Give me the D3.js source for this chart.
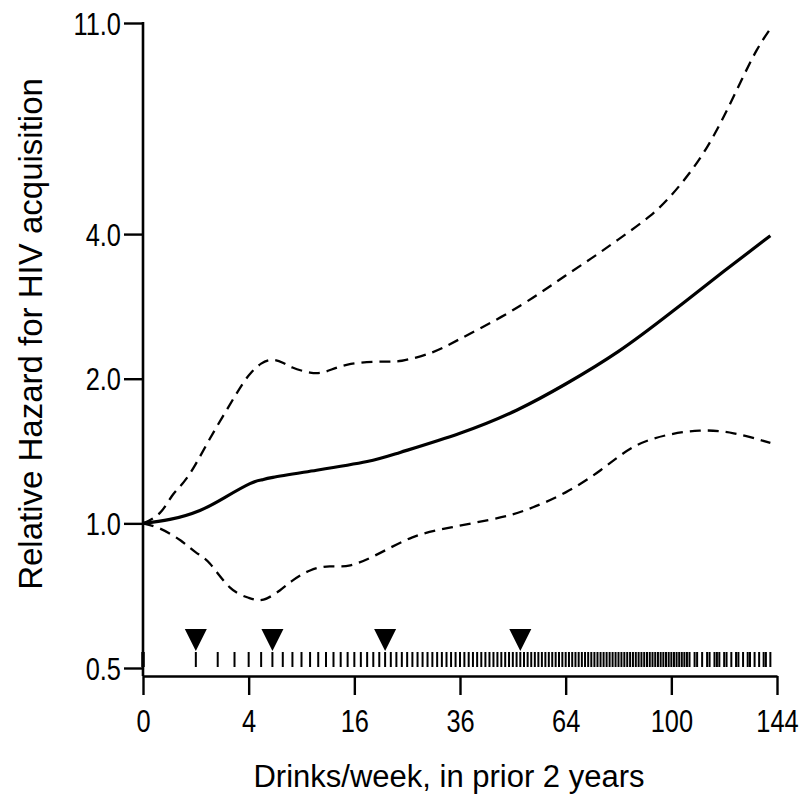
<!DOCTYPE html>
<html><head><meta charset="utf-8">
<script src="https://cdn.jsdelivr.net/npm/d3@7"></script>
<style>body{margin:0;background:#fff} svg{display:block}</style>
</head><body>
<svg id="chart" width="800" height="800"></svg>
<script>
// ---- data ----
const xTickValues = [0, 4, 16, 36, 64, 100, 144];
const yTickValues = [0.5, 1, 2, 4, 11];

const estX = [0, 0.26, 1.16, 2.41, 4.1, 5.07, 6.05, 10.8, 18, 23.7, 36, 50, 64, 81, 100, 121, 141];
const estY = [1.0, 1.019, 1.064, 1.133, 1.21, 1.232, 1.247, 1.29, 1.345, 1.405, 1.54, 1.72, 1.95, 2.28, 2.75, 3.35, 3.97];

const upperX = [0, 0.1, 0.3, 0.6, 1, 1.6, 2.5, 3.5, 4.2, 5, 6, 7, 8, 10, 12, 15, 20, 24, 30, 36, 46, 56, 64, 72, 81, 92, 100, 107, 114, 121, 128, 135, 141];
const upperY = [1.0, 1.05, 1.14, 1.22, 1.33, 1.5, 1.72, 1.94, 2.06, 2.15, 2.19, 2.16, 2.11, 2.06, 2.07, 2.14, 2.17, 2.18, 2.27, 2.42, 2.69, 3.0, 3.28, 3.56, 3.9, 4.36, 4.82, 5.36, 6.07, 7.05, 8.3, 9.67, 10.7];

const lowerX = [0, 0.1, 0.5, 1, 1.6, 2.7, 4, 5.2, 6.7, 8, 10, 12.5, 15.4, 20, 26, 34, 46, 54.5, 64, 75, 86, 98, 111, 125, 141];
const lowerY = [1.0, 0.976, 0.922, 0.87, 0.825, 0.736, 0.70, 0.694, 0.725, 0.76, 0.798, 0.814, 0.818, 0.866, 0.935, 0.981, 1.03, 1.08, 1.16, 1.29, 1.44, 1.525, 1.56, 1.54, 1.47];

const rugValues = [0,1,2,3,4,5,6,7,8,9,10,11,12,13,14,15,16,17,18,19,20,21,22,23,24,25,26,27,28,29,30,
  31,32,33,34,35,36,37,38,39,40,41,42,43,44,45,46,47,48,49,50,51,52,53,54,55,56,57,58,59,60,
  61,62,63,64,65,66,67,68,69,70,71,72,73,74,75,76,77,78,79,80,81,82,83,84,85,86,87,88,89,90,
  91,92,93,94,95,96,97,98,99,100,101,102,103,104,105,106,
  107,109,110,112,114,115,117,118,119,121,122,124,126,127,129,131,132,134,136,138,139,141];

const markerValues = [1, 6, 21, 51];

const xTitle = "Drinks/week, in prior 2 years";
const yTitle = "Relative Hazard for HIV acquisition";

// ---- drawing ----
const svg = d3.select("#chart");
const x = d3.scaleSqrt().domain([0, 144]).range([143, 777]);
const y = d3.scaleLog().domain([0.5, 11]).range([668, 23]);
const axisY = 676;
const font = "'Liberation Sans', Arial, Helvetica, sans-serif";
const squeeze = 0.82;

// y axis
const gy = svg.append("g").attr("transform", `translate(${x(0)},0)`)
  .call(d3.axisLeft(y).tickValues(yTickValues).tickFormat(d3.format(".1f")).tickSize(19));
gy.select(".domain").remove();
gy.selectAll(".tick line").attr("stroke", "#000").attr("stroke-width", 2.4);
gy.selectAll(".tick text").attr("font-family", font).attr("font-size", 31).attr("fill", "#000")
  .attr("x", -22 / squeeze).attr("dy", "0.36em").attr("transform", `scale(${squeeze},1)`);
svg.append("line").attr("x1", x(0)).attr("x2", x(0)).attr("y1", y(11) - 1).attr("y2", axisY)
  .attr("stroke", "#000").attr("stroke-width", 2.6);

// x axis
const gx = svg.append("g").attr("transform", `translate(0,${axisY})`)
  .call(d3.axisBottom(x).tickValues(xTickValues).tickFormat(d3.format("d")).tickSize(19).tickSizeOuter(0));
gx.select(".domain").attr("stroke", "#000").attr("stroke-width", 2.6);
gx.selectAll(".tick line").attr("stroke", "#000").attr("stroke-width", 2.4);
gx.selectAll(".tick text").attr("font-family", font).attr("font-size", 31).attr("fill", "#000")
  .attr("y", 56).attr("dy", 0).attr("transform", `scale(${squeeze},1)`);

// titles
svg.append("text").attr("x", 449).attr("y", 787).attr("text-anchor", "middle")
  .attr("font-family", font).attr("font-size", 31).attr("fill", "#000").text(xTitle);
svg.append("text").attr("transform", "translate(42,334) rotate(-90)").attr("text-anchor", "middle")
  .attr("font-family", font).attr("font-size", 33).attr("fill", "#000").text(yTitle);

// rug
svg.append("g").selectAll("line").data(rugValues).join("line")
  .attr("x1", d => x(d)).attr("x2", d => x(d))
  .attr("y1", y(0.5) - 16).attr("y2", y(0.5) - 1)
  .attr("stroke", "#000").attr("stroke-width", d => d === 0 ? 3.5 : 2);

// markers (triangles)
svg.append("g").selectAll("path").data(markerValues).join("path")
  .attr("d", d => { const cx = x(d), top = y(0.5) - 39, tip = y(0.5) - 17;
    return `M${cx - 11},${top}L${cx + 11},${top}L${cx},${tip}Z`; })
  .attr("fill", "#000");

// curves
const line = d3.line().x(d => x(d[0])).y(d => y(d[1])).curve(d3.curveNatural);
const toPts = (xs, ys) => xs.map((v, i) => [v, ys[i]]);
svg.append("path").attr("d", line(toPts(upperX, upperY))).attr("fill", "none")
  .attr("stroke", "#000").attr("stroke-width", 2.3).attr("stroke-dasharray", "11,7");
svg.append("path").attr("d", line(toPts(lowerX, lowerY))).attr("fill", "none")
  .attr("stroke", "#000").attr("stroke-width", 2.3).attr("stroke-dasharray", "11,7");
svg.append("path").attr("d", line(toPts(estX, estY))).attr("fill", "none")
  .attr("stroke", "#000").attr("stroke-width", 3.2);
</script>
</body></html>
